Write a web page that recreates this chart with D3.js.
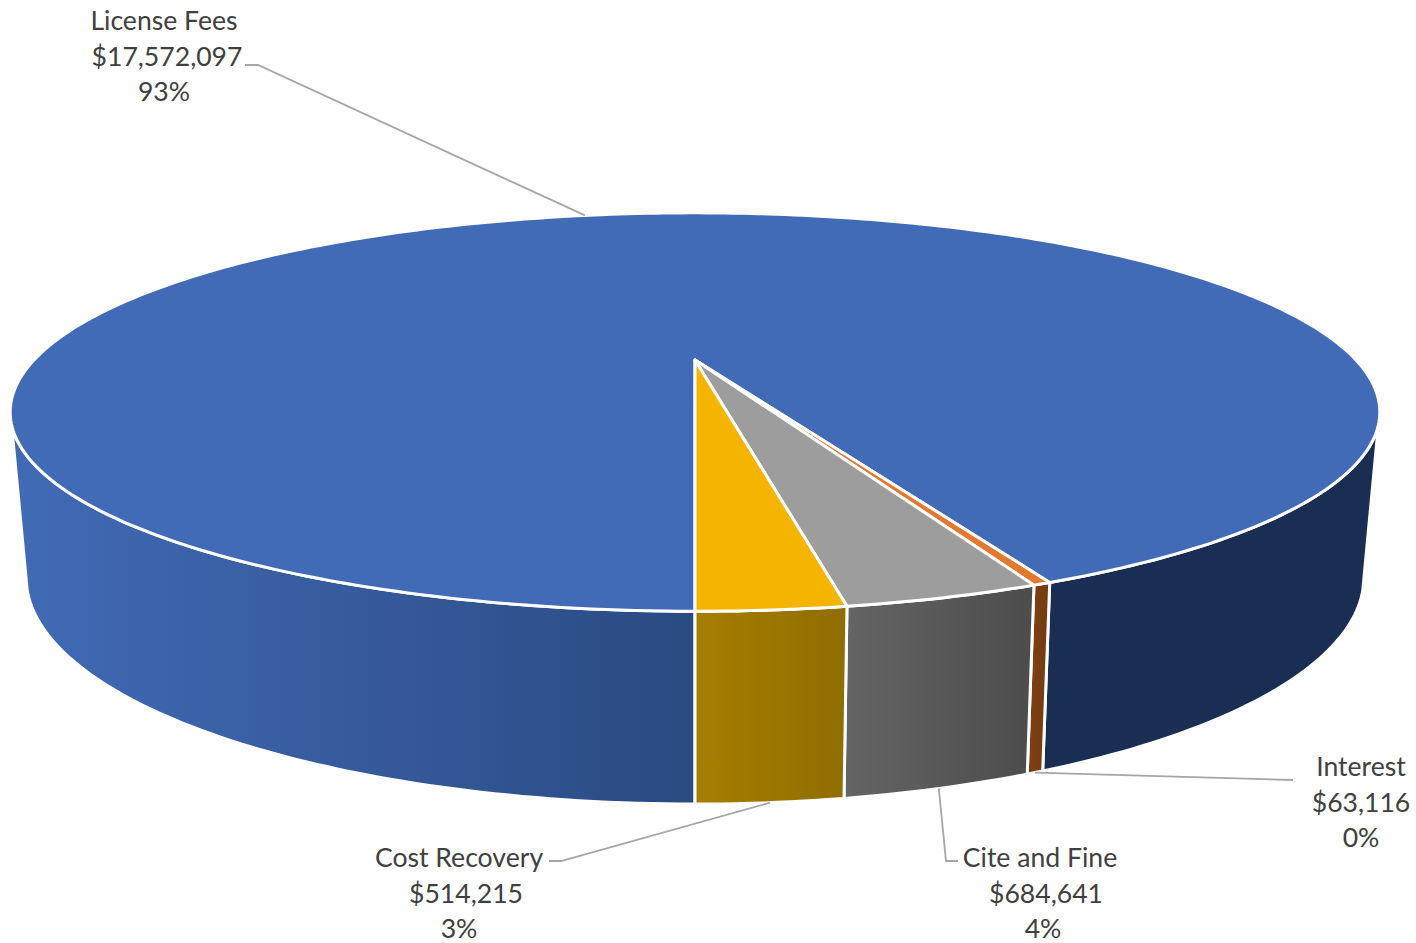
<!DOCTYPE html>
<html>
<head>
<meta charset="utf-8">
<script src="https://cdn.jsdelivr.net/npm/d3@7"></script>
<style>
    html, body { margin: 0; padding: 0; background: #fff; }
    svg { display: block; }
    text { font-family: Lato, "Open Sans", sans-serif; font-size: 26.6px; fill: #404040; }
</style>
</head>
<body>
<svg width="1416" height="943"></svg>
<script>
// Chart values
var categories = ['License Fees', 'Interest', 'Cite and Fine', 'Cost Recovery'];
var amounts = [17572097, 63116, 684641, 514215];

// Colours of the top faces, and left/right stops of the side walls
var topColors = ['#416bb7', '#e3792f', '#9d9d9d', '#f4b400'];
var wallColors = [['#1a2d52', '#1a2d52'], ['#7d3f13', '#743a11'], ['#646464', '#4c4c4c'], ['#a67e00', '#8f6d00']];
var frontWallColors = ['#416ab5', '#2a4a82'];

var svg = d3.select('svg');

// Perspective of the pie: u goes right, v goes towards the viewer
var topFace = {cx: 695, cy: 360, a: 661, b: 185.6, k: 0.2613};
var bottomFace = {cx: 695, cy: 517, a: 645, b: 211, k: 0.265};

function project(face, angle, r) {
    var u = r * Math.sin(angle);
    var v = -r * Math.cos(angle);
    var w = 1 - face.k * v;
    return [face.cx + face.a * u / w, face.cy + face.b * v / w];
}

// Sampled points along a rim between two angles
function rim(face, a0, a1) {
    var n = Math.max(2, Math.ceil(Math.abs(a1 - a0) * 60));
    return d3.range(n + 1).map(function(i) {
        return project(face, a0 + (a1 - a0) * i / n, 1);
    });
}

var line = d3.line();

var pie = d3.pie()
    .sort(null)
    .startAngle(Math.PI)
    .endAngle(3 * Math.PI);
var slices = pie(amounts);

// Wall ends where the rim turns away from the viewer
var turn = Math.asin(0.32);
var leftEdge = 1.5 * Math.PI - turn;
var rightEdge = 2.5 * Math.PI + turn;

var defs = svg.append('defs');
function addGradient(id, x0, x1, colors) {
    var g = defs.append('linearGradient')
        .attr('id', id)
        .attr('gradientUnits', 'userSpaceOnUse')
        .attr('x1', x0).attr('x2', x1)
        .attr('y1', 0).attr('y2', 0);
    g.append('stop').attr('offset', 0).attr('stop-color', colors[0]);
    g.append('stop').attr('offset', 1).attr('stop-color', colors[1]);
    return 'url(#' + id + ')';
}

function wallPath(a0, a1) {
    return line(rim(topFace, a0, a1).concat(rim(bottomFace, a1, a0))) + 'Z';
}

var wallG = svg.append('g')
    .attr('stroke', '#fff')
    .attr('stroke-width', 3)
    .attr('stroke-linejoin', 'round');

// License Fees wraps round the back, so it has two visible walls
var first = slices[0];
wallG.append('path')
    .attr('d', wallPath(first.startAngle, leftEdge))
    .attr('fill', addGradient('wall-left', project(bottomFace, leftEdge, 1)[0], project(bottomFace, first.startAngle, 1)[0], frontWallColors));
wallG.append('path')
    .attr('d', wallPath(rightEdge, first.endAngle))
    .attr('fill', wallColors[0][0]);

slices.slice(1).forEach(function(d) {
    var i = d.index;
    var x0 = project(topFace, d.endAngle, 1)[0];
    var x1 = project(topFace, d.startAngle, 1)[0];
    wallG.append('path')
        .attr('d', wallPath(d.startAngle, d.endAngle))
        .attr('fill', addGradient('wall-' + i, x0, x1, wallColors[i]));
});

// Top faces
svg.append('g')
    .attr('stroke', '#fff')
    .attr('stroke-width', 3)
    .attr('stroke-linejoin', 'round')
    .selectAll('path')
    .data(slices)
    .enter()
    .append('path')
    .attr('fill', function(d) { return topColors[d.index]; })
    .attr('d', function(d) {
        return line([project(topFace, 0, 0)].concat(rim(topFace, d.startAngle, d.endAngle))) + 'Z';
    });

// Where each label sits: text centre per line, first baseline, elbow of the leader
var labelLayout = [
    {x: [164, 167, 164], y: 30, from: [245, 65], elbow: [258, 65], face: topFace},
    {x: [1361, 1361, 1361], y: 776, from: [1293, 780], elbow: [1293, 780], face: bottomFace},
    {x: [1040, 1046, 1043], y: 867, from: [958, 861], elbow: [946, 861], face: bottomFace},
    {x: [459, 466, 459], y: 867, from: [549, 861], elbow: [561, 861], face: bottomFace}
];

var total = d3.sum(amounts);
var money = d3.format('$,');
var percent = d3.format('.0%');

var leaderG = svg.append('g')
    .attr('fill', 'none')
    .attr('stroke', '#a6a6a6')
    .attr('stroke-width', 1.8);

slices.forEach(function(d) {
    var layout = labelLayout[d.index];
    var mid = (d.startAngle + d.endAngle) / 2;
    leaderG.append('path')
        .attr('d', line([layout.from, layout.elbow, project(layout.face, mid, 1)]));

    var lines = [categories[d.index], money(amounts[d.index]), percent(amounts[d.index] / total)];
    svg.append('g')
        .selectAll('text')
        .data(lines)
        .enter()
        .append('text')
        .attr('text-anchor', 'middle')
        .attr('x', function(t, i) { return layout.x[i]; })
        .attr('y', function(t, i) { return layout.y + i * 35.7; })
        .text(function(t) { return t; });
});
</script>
</body>
</html>
